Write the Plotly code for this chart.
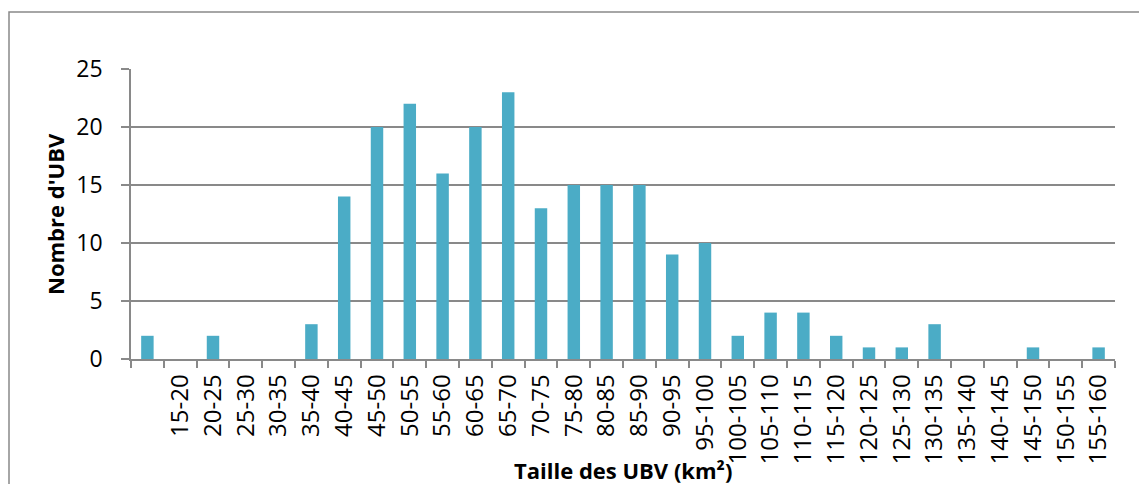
import plotly.graph_objects as go

categories = [" ", "15-20", "20-25", "25-30", "30-35", "35-40", "40-45", "45-50", "50-55",
              "55-60", "60-65", "65-70", "70-75", "75-80", "80-85", "85-90", "90-95",
              "95-100", "100-105", "105-110", "110-115", "115-120", "120-125", "125-130",
              "130-135", "135-140", "140-145", "145-150", "150-155", "155-160"]
counts = [2, 0, 2, 0, 0, 3, 14, 20, 22, 16, 20, 23, 13, 15, 15, 15, 9, 10, 2, 4, 4, 2,
          1, 1, 3, 0, 0, 1, 0, 1]
y_ticks = [0, 5, 10, 15, 20, 25]

OFF = 8  # default page body margin
W, H = 1147 - OFF, 484 - OFF
# plot area in page pixels: x 131..1115, y 69..359
L, T = 131 - OFF, 69 - OFF
R = W - (1115 - OFF)
B = H - (359 - OFF)
pw, ph = W - L - R, H - T - B

def px_x(px):
    return (px - OFF - L) / pw

def px_y(py):
    return (H - B - (py - OFF)) / ph

FONT = "Open Sans"
GRAY = "#898989"

fig = go.Figure(go.Bar(
    x=categories, y=counts,
    marker=dict(color="#4BACC6", line=dict(width=0)),
))

fig.update_layout(
    width=W, height=H,
    margin=dict(l=L, r=R, t=T, b=B),
    plot_bgcolor="white", paper_bgcolor="white",
    bargap=0.62,
    showlegend=False,
    font=dict(family=FONT, color="black"),
    xaxis=dict(
        type="category", tickson="boundaries", ticks="outside", ticklen=7,
        tickcolor=GRAY, tickwidth=1.5, showline=True, linecolor=GRAY, linewidth=1.5,
        tickangle=-90, tickfont=dict(size=24, family=FONT), showgrid=False,
        ticklabelstandoff=4,
        range=[-0.5, len(categories) - 0.5],
    ),
    yaxis=dict(
        range=[0, 25], tickvals=y_ticks, ticks="outside", ticklen=8, tickcolor=GRAY,
        tickwidth=1.5, showline=True, linecolor=GRAY, linewidth=1.5,
        showgrid=True, gridcolor=GRAY, gridwidth=1.5, zeroline=False,
        tickfont=dict(size=23, family=FONT), ticklabelstandoff=14,
    ),
    annotations=[
        dict(text="<b>Nombre d'UBV</b>", xref="paper", yref="paper",
             x=px_x(55), y=px_y(214), textangle=-90, showarrow=False,
             font=dict(size=22, family=FONT), xanchor="center", yanchor="middle"),
        dict(text="<b>Taille des UBV (km²)</b>", xref="paper", yref="paper",
             x=px_x(623), y=px_y(470), showarrow=False,
             font=dict(size=22, family=FONT), xanchor="center", yanchor="middle"),
    ],
    shapes=[
        dict(type="rect", xref="paper", yref="paper",
             x0=px_x(9), x1=px_x(1170), y0=px_y(12), y1=px_y(510),
             line=dict(color=GRAY, width=1.5), fillcolor="rgba(0,0,0,0)", layer="below"),
    ],
)

fig.write_html("out.html")
